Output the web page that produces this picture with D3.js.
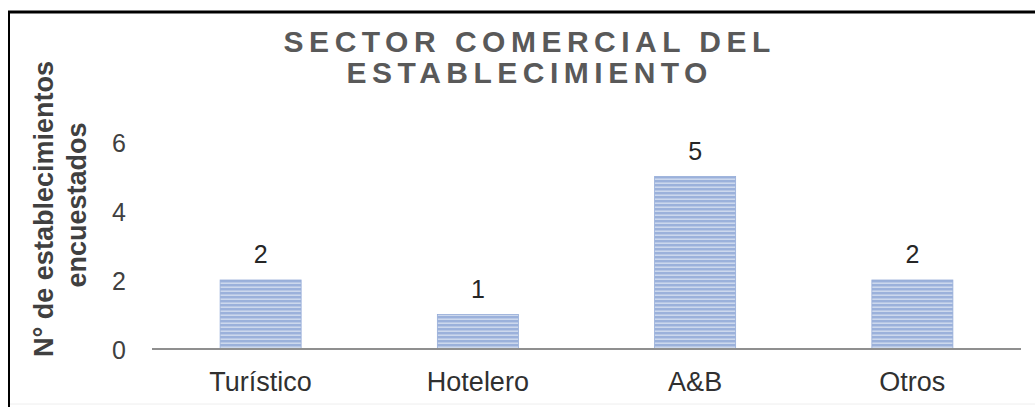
<!DOCTYPE html>
<html>
<head>
<meta charset="utf-8">
<script src="https://cdn.jsdelivr.net/npm/d3@7"></script>
<style>
  html, body { margin: 0; padding: 0; background: #ffffff; }
  svg { display: block; font-family: "Liberation Sans", Arial, sans-serif; }
</style>
</head>
<body>
<svg id="chart" width="1035" height="407"></svg>
<script>
const categories = ["Turístico", "Hotelero", "A&B", "Otros"];
const values = [2, 1, 5, 2];
const yTicks = [0, 2, 4, 6];
const titleLines = ["SECTOR COMERCIAL DEL", "ESTABLECIMIENTO"];
const yTitleLines = ["N° de establecimientos", "encuestados"];

const svg = d3.select("#chart");

// pattern for striped bars
const defs = svg.append("defs");
const pat = defs.append("pattern")
  .attr("id", "stripes")
  .attr("patternUnits", "userSpaceOnUse")
  .attr("width", 8).attr("height", 4);
pat.append("rect").attr("width", 8).attr("height", 4).attr("fill", "#9bb1db");
pat.append("rect").attr("y", 2.6).attr("width", 8).attr("height", 1.1)
  .attr("fill", "#ffffff").attr("opacity", 0.7);

// frame lines
svg.append("line").attr("x1", 8).attr("x2", 1035).attr("y1", 12).attr("y2", 12)
  .attr("stroke", "#000").attr("stroke-width", 3);
svg.append("line").attr("x1", 9).attr("x2", 9).attr("y1", 11).attr("y2", 407)
  .attr("stroke", "#000").attr("stroke-width", 2);
svg.append("line").attr("x1", 10).attr("x2", 1035).attr("y1", 404).attr("y2", 404)
  .attr("stroke", "#eeeeee").attr("stroke-width", 1);

const x = d3.scaleBand().domain(categories).range([152, 1021])
  .paddingInner(0.627).paddingOuter(0.3135);
const y = d3.scaleLinear().domain([0, 6]).range([349, 142]);

// bars
svg.selectAll("rect.bar").data(values).join("rect")
  .attr("class", "bar")
  .attr("x", (d, i) => x(categories[i]))
  .attr("width", x.bandwidth())
  .attr("y", d => y(d))
  .attr("height", d => y(0) - y(d))
  .attr("fill", "url(#stripes)")
  .attr("stroke", "#96acd8").attr("stroke-width", 0.8);

// axis baseline
svg.append("line").attr("x1", 152).attr("x2", 1021)
  .attr("y1", y(0)).attr("y2", y(0))
  .attr("stroke", "#8f8f8f").attr("stroke-width", 2);

// y tick labels
svg.selectAll("text.ytick").data(yTicks).join("text")
  .attr("class", "ytick")
  .attr("x", 126).attr("y", d => y(d) + 1)
  .attr("dy", "0.35em")
  .attr("text-anchor", "end")
  .attr("font-size", 25).attr("fill", "#404040")
  .text(d => d);

// category labels
svg.selectAll("text.xcat").data(categories).join("text")
  .attr("class", "xcat")
  .attr("x", d => x(d) + x.bandwidth() / 2).attr("y", 391)
  .attr("text-anchor", "middle")
  .attr("font-size", 27).attr("fill", "#303030")
  .text(d => d);

// data labels
svg.selectAll("text.val").data(values).join("text")
  .attr("class", "val")
  .attr("x", (d, i) => x(categories[i]) + x.bandwidth() / 2)
  .attr("y", d => y(d) - 17)
  .attr("text-anchor", "middle")
  .attr("font-size", 25).attr("fill", "#262626")
  .text(d => d);

// title
svg.selectAll("text.title").data(titleLines).join("text")
  .attr("class", "title")
  .attr("x", 527 + 2.75).attr("y", (d, i) => 52 + i * 31)
  .attr("text-anchor", "middle")
  .attr("font-size", 30).attr("font-weight", "bold")
  .attr("letter-spacing", "5.5px")
  .attr("fill", "#595959")
  .text(d => d);

// y axis title
svg.selectAll("text.ytitle").data(yTitleLines).join("text")
  .attr("class", "ytitle")
  .attr("transform", (d, i) => `translate(${53 + i * 33},${i === 0 ? 209 : 205}) rotate(-90)`)
  .attr("text-anchor", "middle")
  .attr("font-size", 27).attr("font-weight", "bold")
  .attr("fill", "#404040")
  .text(d => d);
</script>
</body>
</html>
